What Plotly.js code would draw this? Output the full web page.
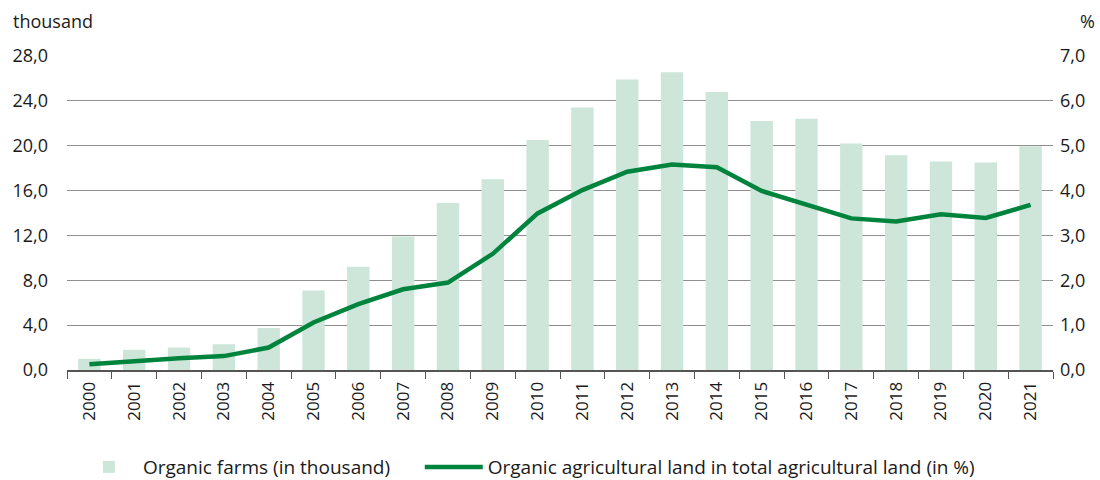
<!DOCTYPE html>
<html>
<head>
<meta charset="utf-8">
<script src="https://cdn.plot.ly/plotly-3.0.1.min.js"></script>
<style>html,body{margin:0;padding:0;background:#fff;}#chart{width:1100px;height:480px;}</style>
</head>
<body>
<div id="chart"></div>
<script>
const years = ["2000","2001","2002","2003","2004","2005","2006","2007","2008","2009","2010","2011","2012","2013","2014","2015","2016","2017","2018","2019","2020","2021"];
const organicFarms = [1.0, 1.8, 2.0, 2.3, 3.75, 7.1, 9.2, 11.9, 14.9, 17.0, 20.5, 23.4, 25.9, 26.55, 24.8, 22.2, 22.4, 20.2, 19.15, 18.6, 18.5, 19.95];
const organicLandShare = [0.13, 0.2, 0.26, 0.31, 0.5, 1.06, 1.47, 1.8, 1.95, 2.59, 3.49, 4.01, 4.42, 4.58, 4.52, 3.99, 3.68, 3.38, 3.31, 3.47, 3.39, 3.68];
const leftTicks = [0, 4, 8, 12, 16, 20, 24, 28];
const rightTicks = [0, 1, 2, 3, 4, 5, 6, 7];

const fontFam = "Open Sans, Noto Sans, sans-serif";
const traces = [
  {type: "bar", x: years, y: organicFarms, name: "Organic farms (in thousand)\u00a0\u00a0\u00a0\u00a0\u00a0",
   marker: {color: "#cde6d9"}, yaxis: "y"},
  {type: "scatter", mode: "lines", x: years, y: organicLandShare,
   name: "Organic agricultural land in total agricultural land (in %)",
   line: {color: "#00843d", width: 4.5}, yaxis: "y2"}
];
const layout = {
  width: 1100, height: 480,
  margin: {l: 67, r: 47, t: 56, b: 110},
  paper_bgcolor: "#fff", plot_bgcolor: "#fff",
  separators: ",.",
  font: {family: fontFam, size: 17, color: "#1a1a1a"},
  bargap: 0.5,
  showlegend: true,
  legend: {orientation: "h", x: 0.008, xanchor: "left", yref: "container", y: 0.027, yanchor: "middle",
           font: {size: 19, color: "#1a1a1a"}, itemwidth: 58, tracegroupgap: 0},
  xaxis: {type: "category", tickangle: -90, ticks: "outside", tickson: "boundaries",
          ticklen: 7, tickcolor: "#555", showline: true, linecolor: "#555", linewidth: 2,
          showgrid: false, tickfont: {size: 17}, automargin: false, ticklabelstandoff: 3},
  yaxis: {range: [0, 28], tickvals: leftTicks, tickformat: ".1f", showgrid: true,
          gridcolor: "#8f8f8f", gridwidth: 1, zeroline: false, ticks: "", ticklen: 0,
          tickfont: {size: 18}, automargin: false, ticklabelstandoff: 18},
  yaxis2: {range: [0, 7], tickvals: rightTicks, tickformat: ".1f", overlaying: "y",
           side: "right", showgrid: false, zeroline: false, tickfont: {size: 18},
           automargin: false, ticklabelstandoff: 6},
  annotations: [
    {text: "thousand", xref: "paper", yref: "paper", x: -0.057, y: 1.11, xanchor: "left",
     yanchor: "middle", showarrow: false, font: {size: 18}},
    {text: "%", xref: "paper", yref: "paper", x: 1.045, y: 1.11, xanchor: "right",
     yanchor: "middle", showarrow: false, font: {size: 18}}
  ]
};
Plotly.newPlot("chart", traces, layout, {displayModeBar: false, staticPlot: true});
</script>
</body>
</html>
